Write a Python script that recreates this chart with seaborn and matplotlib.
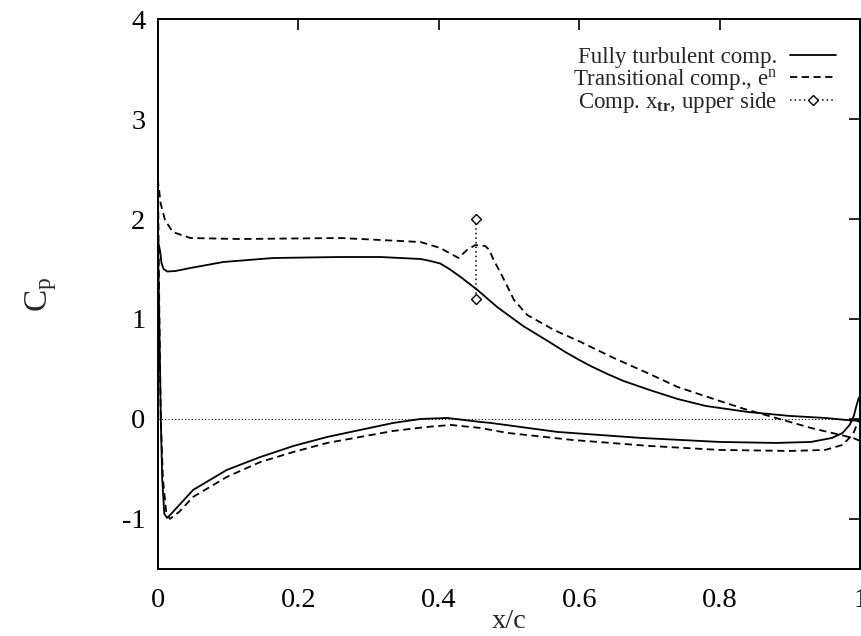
import numpy as np
import pandas as pd
import matplotlib
matplotlib.use("Agg")
import matplotlib.pyplot as plt
import seaborn as sns

# Fully turbulent computation: upper side (trailing edge -> leading edge)
turb_upper_x = [1.0, 0.98, 0.95, 0.90, 0.84, 0.78, 0.74, 0.70, 0.663, 0.64, 0.616,
                0.60, 0.58, 0.555, 0.52, 0.483, 0.455, 0.431, 0.415, 0.402, 0.385,
                0.374, 0.317, 0.26, 0.164, 0.093, 0.046, 0.025, 0.013, 0.008,
                0.005, 0.003, 0.0]
turb_upper_cp = [-0.02, -0.01, 0.01, 0.03, 0.07, 0.13, 0.20, 0.29, 0.38, 0.45, 0.53,
                 0.59, 0.67, 0.78, 0.93, 1.12, 1.29, 1.42, 1.50, 1.555, 1.585,
                 1.60, 1.62, 1.62, 1.61, 1.57, 1.51, 1.48, 1.475, 1.50,
                 1.56, 1.68, 1.78]
# Fully turbulent computation: lower side (leading edge -> trailing edge)
turb_lower_x = [0.0, 0.002, 0.004, 0.006, 0.009, 0.013, 0.02, 0.05, 0.098, 0.146,
                0.193, 0.241, 0.288, 0.335, 0.374, 0.412, 0.459, 0.474, 0.569, 0.688,
                0.80, 0.88, 0.93, 0.96, 0.975, 0.985, 0.991, 0.995, 0.998, 1.0]
turb_lower_cp = [1.78, 0.9, 0.0, -0.6, -0.95, -0.99, -0.94, -0.71, -0.51, -0.38,
                 -0.27, -0.18, -0.11, -0.04, 0.0, 0.01, -0.03, -0.04, -0.13, -0.19,
                 -0.23, -0.24, -0.23, -0.19, -0.14, -0.06, 0.03, 0.14, 0.21, 0.22]

# Transitional computation (e^n): upper side
trans_upper_x = [1.0, 0.99, 0.96, 0.93, 0.90, 0.835, 0.80, 0.74, 0.697, 0.649, 0.602,
                 0.564, 0.526, 0.507, 0.498, 0.488, 0.478, 0.472, 0.466, 0.452,
                 0.44, 0.428, 0.415, 0.402, 0.374, 0.317, 0.26, 0.117, 0.046,
                 0.021, 0.01, 0.004, 0.0]
trans_upper_cp = [-0.22, -0.19, -0.14, -0.09, -0.03, 0.10, 0.18, 0.32, 0.46, 0.61, 0.77,
                  0.89, 1.04, 1.19, 1.32, 1.46, 1.59, 1.69, 1.73, 1.74,
                  1.69, 1.61, 1.66, 1.71, 1.77, 1.79, 1.81, 1.80, 1.81,
                  1.87, 1.99, 2.15, 2.38]
# Transitional computation (e^n): lower side
trans_lower_x = [0.0, 0.002, 0.004, 0.007, 0.012, 0.017, 0.03, 0.05, 0.098, 0.146,
                 0.193, 0.241, 0.288, 0.335, 0.383, 0.417, 0.459, 0.498, 0.59, 0.70,
                 0.80, 0.90, 0.95, 0.975, 0.99, 0.997, 1.0]
trans_lower_cp = [2.38, 1.0, 0.0, -0.6, -0.95, -1.0, -0.93, -0.78, -0.58, -0.43,
                  -0.33, -0.24, -0.18, -0.12, -0.08, -0.06, -0.09, -0.14, -0.21, -0.27,
                  -0.31, -0.32, -0.31, -0.26, -0.15, -0.03, 0.0]

# Computed transition location on the upper side
xtr_x = [0.453, 0.453]
xtr_cp = [2.0, 1.2]

x_ticks = [0, 0.2, 0.4, 0.6, 0.8, 1]
x_tick_labels = ["0", "0.2", "0.4", "0.6", "0.8", "1"]
y_ticks = [-1, 0, 1, 2, 3, 4]
y_tick_labels = ["-1", "0", "1", "2", "3", "4"]

sns.set_style("white")
plt.rcParams["font.family"] = ["Liberation Serif", "DejaVu Serif"]
plt.rcParams["mathtext.fontset"] = "custom"
plt.rcParams["mathtext.rm"] = "Liberation Serif"
plt.rcParams["mathtext.it"] = "Liberation Serif:italic"
plt.rcParams["mathtext.bf"] = "Liberation Serif:bold"

fig = plt.figure(figsize=(8.61, 6.36), dpi=100)
ax = fig.add_axes([0.1835, 0.1055, 0.8155, 0.8645])

turb = pd.DataFrame({"x": turb_upper_x + turb_lower_x,
                     "cp": turb_upper_cp + turb_lower_cp})
trans = pd.DataFrame({"x": trans_upper_x + trans_lower_x,
                      "cp": trans_upper_cp + trans_lower_cp})
xtr = pd.DataFrame({"x": xtr_x, "cp": xtr_cp})

# zero reference line
ax.axhline(0, color="black", lw=0.8, ls=(0, (1, 2)), zorder=1)

sns.lineplot(data=turb, x="x", y="cp", sort=False, estimator=None, ax=ax,
             color="black", lw=1.3, label="Fully turbulent comp.")
sns.lineplot(data=trans, x="x", y="cp", sort=False, estimator=None, ax=ax,
             color="black", lw=1.3, label="Transitional comp., e$^{\\mathrm{n}}$")
ax.lines[-1].set_dashes((4, 2.5))
sns.lineplot(data=xtr, x="x", y="cp", sort=False, estimator=None, ax=ax,
             color="black", lw=1.1, marker="D", markersize=5,
             markerfacecolor="white", markeredgecolor="black", markeredgewidth=1.0,
             label="Comp. x$_{\\mathbf{tr}}$, upper side")
ax.lines[-1].set_dashes((1, 2))

ax.set_xlim(0, 1)
ax.set_ylim(-1.5, 4)
ax.set_xticks(x_ticks)
ax.set_xticklabels(x_tick_labels)
ax.set_yticks(y_ticks)
ax.set_yticklabels(y_tick_labels)
ax.tick_params(direction="in", length=8, width=1.2, top=True, right=True,
               labelsize=20.5, colors="black")
ax.tick_params(axis="x", pad=14)
ax.tick_params(axis="y", pad=9)
for s in ax.spines.values():
    s.set_linewidth(1.4)
    s.set_color("black")

ax.set_xlabel("x/c", fontsize=20.5, labelpad=-3)
ax.set_ylabel("C$_{\\mathrm{p}}$", fontsize=24, labelpad=45, rotation=90)

leg = ax.legend(loc="upper right", bbox_to_anchor=(0.988, 0.979), frameon=False,
                markerfirst=False, fontsize=16.5, handlelength=2.0,
                handletextpad=0.55, labelspacing=-0.05, borderpad=0.2, numpoints=1)
for t in leg.get_texts():
    t.set_ha("right")
leg._legend_box.align = "right"

fig.savefig("out.png", dpi=100)
